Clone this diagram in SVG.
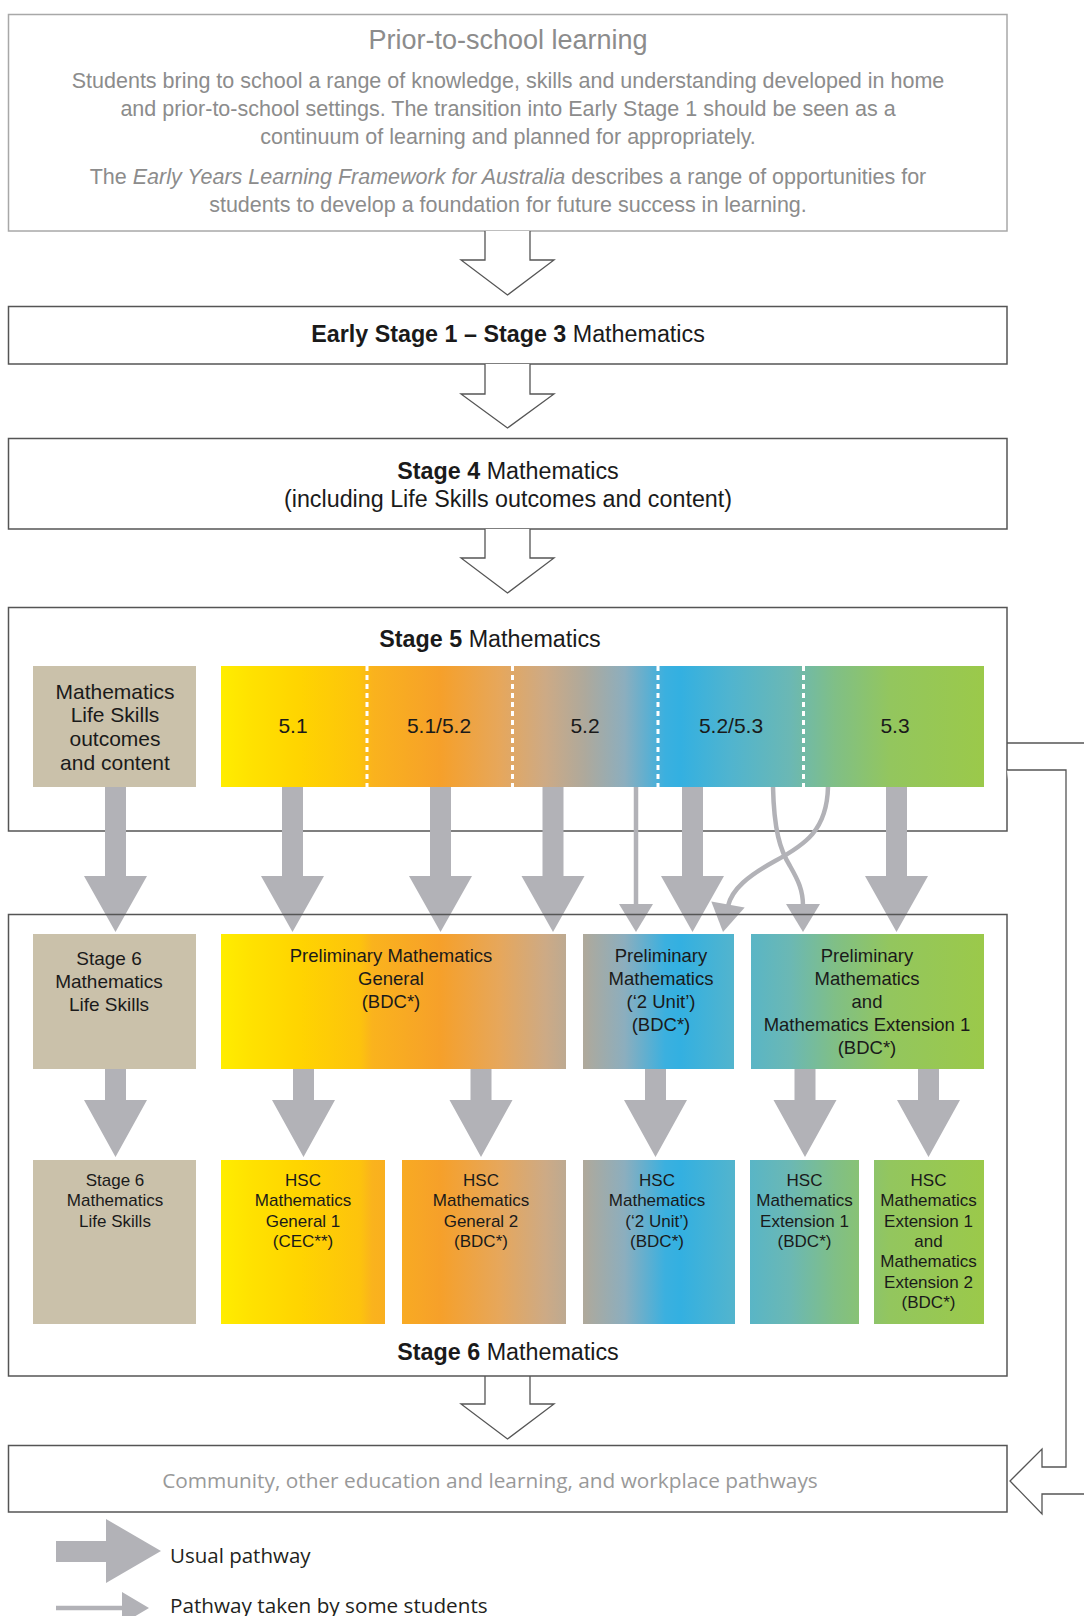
<svg xmlns="http://www.w3.org/2000/svg" width="1084" height="1616" viewBox="0 0 1084 1616">
<defs>
<linearGradient id="grad" gradientUnits="userSpaceOnUse" x1="221" y1="0" x2="984" y2="0">
<stop offset="0" stop-color="#FFED00"/>
<stop offset="0.038" stop-color="#FFE200"/>
<stop offset="0.104" stop-color="#FFD400"/>
<stop offset="0.182" stop-color="#FDC30D"/>
<stop offset="0.198" stop-color="#FAB31D"/>
<stop offset="0.287" stop-color="#F6A02A"/>
<stop offset="0.366" stop-color="#E6A75C"/>
<stop offset="0.425" stop-color="#CDAA85"/>
<stop offset="0.477" stop-color="#AEA99C"/>
<stop offset="0.529" stop-color="#8CAEBE"/>
<stop offset="0.582" stop-color="#3BB0DF"/>
<stop offset="0.602" stop-color="#33B0E1"/>
<stop offset="0.667" stop-color="#50B4CF"/>
<stop offset="0.746" stop-color="#6BB8B4"/>
<stop offset="0.805" stop-color="#80BF86"/>
<stop offset="0.877" stop-color="#93C65E"/>
<stop offset="1" stop-color="#9BC94A"/>
</linearGradient>
<style>
.box{fill:#fff;stroke:#555;stroke-width:1.5}
.boxn{fill:none;stroke:#555;stroke-width:1.5}
.hol{fill:#fff;stroke:#555;stroke-width:1.3}
.tan{fill:#CAC1AA}
.gr{fill:url(#grad)}
.arr{fill:#B2B2B7}
.thin{fill:none;stroke:#B2B2B7;stroke-width:4.5}
.t{font-family:"Liberation Sans",Arial,sans-serif;fill:#1a1a1a;text-anchor:middle}
.h{font-size:23.3px}
.b{font-weight:bold}
.g{fill:#8c8c8c}
.s21{font-size:21px}
.s18{font-size:18.5px}
.s17{font-size:17px}
.m{font-family:"Open Sans",sans-serif}
</style>
</defs>
<rect width="1084" height="1616" fill="#fff"/>

<g id="prior">
<rect x="8.5" y="14.5" width="998.5" height="216.5" fill="#fff" stroke="#a8a8a8" stroke-width="1.5"/>
<text class="t g" x="508" y="49" font-size="27">Prior-to-school learning</text>
<text class="t g" font-size="21.5"><tspan x="508" y="88">Students bring to school a range of knowledge, skills and understanding developed in home</tspan><tspan x="508" y="116">and prior-to-school settings. The transition into Early Stage 1 should be seen as a</tspan><tspan x="508" y="144">continuum of learning and planned for appropriately.</tspan><tspan x="508" y="184">The <tspan font-style="italic">Early Years Learning Framework for Australia</tspan> describes a range of opportunities for</tspan><tspan x="508" y="212">students to develop a foundation for future success in learning.</tspan></text>
</g>

<g id="es1">
<rect class="box" x="8.5" y="306.5" width="998.5" height="57.5"/>
<text class="t h" x="508" y="342"><tspan class="b">Early Stage 1 – Stage 3</tspan> Mathematics</text>
</g>

<g id="stage4">
<rect class="box" x="8.5" y="438.5" width="998.5" height="90.5"/>
<text class="t h" x="508" y="479"><tspan class="b">Stage 4</tspan> Mathematics</text>
<text class="t h" x="508" y="507">(including Life Skills outcomes and content)</text>
</g>

<g id="stage5">
<rect class="box" x="8.5" y="607.5" width="998.5" height="223.5"/>
<text class="t h" x="490" y="647"><tspan class="b">Stage 5</tspan> Mathematics</text>
<rect class="tan" x="33" y="666" width="163" height="121"/>
<text class="t s21"><tspan x="115" y="699">Mathematics</tspan><tspan x="115" y="722">Life Skills</tspan><tspan x="115" y="746">outcomes</tspan><tspan x="115" y="770">and content</tspan></text>
<rect class="gr" x="221" y="666" width="763" height="121"/>
<g stroke="#fff" stroke-width="3" stroke-dasharray="5 4">
<line x1="367" y1="666" x2="367" y2="787"/>
<line x1="512.5" y1="666" x2="512.5" y2="787"/>
<line x1="658" y1="666" x2="658" y2="787"/>
<line x1="803.5" y1="666" x2="803.5" y2="787"/>
</g>
<g class="t s21">
<text x="293" y="733">5.1</text>
<text x="439" y="733">5.1/5.2</text>
<text x="585" y="733">5.2</text>
<text x="731" y="733">5.2/5.3</text>
<text x="895" y="733">5.3</text>
</g>
</g>

<g id="connectors">
<path class="hol" d="M485 231 V260 H461 L507.5 295 L554 260 H530 V231"/>
<path class="hol" d="M485 364 V394 H461 L507.5 428 L554 394 H530 V364"/>
<path class="hol" d="M485 529 V558 H461 L507.5 593 L554 558 H530 V529"/>
<path class="hol" d="M485 1376 V1404 H461 L507.5 1439 L554 1404 H530 V1376"/>
<path fill="none" stroke="#555" stroke-width="1.3" d="M1007 743 H1084"/>
<path class="hol" d="M1007 770 H1066 V1467 H1042 V1449 L1010 1481 L1042 1514 V1494 H1084"/>
<path class="arr" d="M105 787 H126 V876 H147 L115.5 932 L84 876 H105 Z"/>
<path class="arr" d="M282 787 H303 V876 H324 L292.5 932 L261 876 H282 Z"/>
<path class="arr" d="M430 787 H451 V876 H472 L440.5 932 L409 876 H430 Z"/>
<path class="arr" d="M542.5 787 H563.5 V876 H584.5 L553 932 L521.5 876 H542.5 Z"/>
<path class="arr" d="M682 787 H703 V876 H724 L692.5 932 L661 876 H682 Z"/>
<path class="arr" d="M886 787 H907 V876 H928 L896.5 932 L865 876 H886 Z"/>
<path class="thin" d="M636 787 V906"/>
<polygon class="arr" points="619,904 653,904 636,932"/>
<path class="thin" d="M828 787 C827 830 805 845 775 861 C748 876 732 889 728 906"/>
<polygon class="arr" points="711.3,901.5 744.7,907.5 723,932"/>
<path class="thin" d="M773 787 C774 830 780 850 790 866 C798 880 803 890 803 906"/>
<polygon class="arr" points="786,904 820,904 803,932"/>
<path class="arr" d="M105 1069 H126 V1100 H147 L115.5 1157 L84 1100 H105 Z"/>
<path class="arr" d="M293 1069 H314 V1100 H335 L303.5 1157 L272 1100 H293 Z"/>
<path class="arr" d="M470.5 1069 H491.5 V1100 H512.5 L481 1157 L449.5 1100 H470.5 Z"/>
<path class="arr" d="M645 1069 H666 V1100 H687 L655.5 1157 L624 1100 H645 Z"/>
<path class="arr" d="M794.5 1069 H815.5 V1100 H836.5 L805 1157 L773.5 1100 H794.5 Z"/>
<path class="arr" d="M918 1069 H939 V1100 H960 L928.5 1157 L897 1100 H918 Z"/>
</g>

<g id="stage6">
<rect class="boxn" x="8.5" y="914.5" width="998.5" height="461.5"/>
<text class="t h" x="508" y="1360"><tspan class="b">Stage 6</tspan> Mathematics</text>
</g>

<g id="prelim-ls">
<rect class="tan" x="33" y="934" width="163" height="135"/>
<text class="t" font-size="19"><tspan x="109" y="965">Stage 6</tspan><tspan x="109" y="988">Mathematics</tspan><tspan x="109" y="1011">Life Skills</tspan></text>
</g>
<g id="prelim-general">
<rect class="gr" x="221" y="934" width="345" height="135"/>
<text class="t s18"><tspan x="391" y="962">Preliminary Mathematics</tspan><tspan x="391" y="985">General</tspan><tspan x="391" y="1008">(BDC*)</tspan></text>
</g>
<g id="prelim-2unit">
<rect class="gr" x="583" y="934" width="151" height="135"/>
<text class="t s18"><tspan x="661" y="962">Preliminary</tspan><tspan x="661" y="985">Mathematics</tspan><tspan x="661" y="1008">(‘2 Unit’)</tspan><tspan x="661" y="1031">(BDC*)</tspan></text>
</g>
<g id="prelim-ext1">
<rect class="gr" x="751" y="934" width="233" height="135"/>
<text class="t s18"><tspan x="867" y="962">Preliminary</tspan><tspan x="867" y="985">Mathematics</tspan><tspan x="867" y="1008">and</tspan><tspan x="867" y="1031">Mathematics Extension 1</tspan><tspan x="867" y="1054">(BDC*)</tspan></text>
</g>

<g id="hsc-ls">
<rect class="tan" x="33" y="1160" width="163" height="164"/>
<text class="t s17"><tspan x="115" y="1186">Stage 6</tspan><tspan x="115" y="1206">Mathematics</tspan><tspan x="115" y="1227">Life Skills</tspan></text>
</g>
<g id="hsc-gen1">
<rect class="gr" x="221" y="1160" width="164" height="164"/>
<text class="t s17"><tspan x="303" y="1186">HSC</tspan><tspan x="303" y="1206">Mathematics</tspan><tspan x="303" y="1227">General 1</tspan><tspan x="303" y="1247">(CEC**)</tspan></text>
</g>
<g id="hsc-gen2">
<rect class="gr" x="402" y="1160" width="164" height="164"/>
<text class="t s17"><tspan x="481" y="1186">HSC</tspan><tspan x="481" y="1206">Mathematics</tspan><tspan x="481" y="1227">General 2</tspan><tspan x="481" y="1247">(BDC*)</tspan></text>
</g>
<g id="hsc-2unit">
<rect class="gr" x="583" y="1160" width="152" height="164"/>
<text class="t s17"><tspan x="657" y="1186">HSC</tspan><tspan x="657" y="1206">Mathematics</tspan><tspan x="657" y="1227">(‘2 Unit’)</tspan><tspan x="657" y="1247">(BDC*)</tspan></text>
</g>
<g id="hsc-ext1">
<rect class="gr" x="750" y="1160" width="109" height="164"/>
<text class="t s17"><tspan x="804.5" y="1186">HSC</tspan><tspan x="804.5" y="1206">Mathematics</tspan><tspan x="804.5" y="1227">Extension 1</tspan><tspan x="804.5" y="1247">(BDC*)</tspan></text>
</g>
<g id="hsc-ext2">
<rect class="gr" x="874" y="1160" width="110" height="164"/>
<text class="t s17"><tspan x="928.5" y="1186">HSC</tspan><tspan x="928.5" y="1206">Mathematics</tspan><tspan x="928.5" y="1227">Extension 1</tspan><tspan x="928.5" y="1247">and</tspan><tspan x="928.5" y="1267">Mathematics</tspan><tspan x="928.5" y="1288">Extension 2</tspan><tspan x="928.5" y="1308">(BDC*)</tspan></text>
</g>

<g id="community">
<rect class="box" x="8.5" y="1445.5" width="998.5" height="66.5"/>
<text class="m" x="490" y="1488" font-size="20.8" fill="#999" text-anchor="middle">Community, other education and learning, and workplace pathways</text>
</g>

<g id="legend">
<path class="arr" d="M56 1541 H106 V1519 L161 1551 L106 1583 V1562 H56 Z"/>
<text class="m" x="170" y="1563" font-size="20.5" fill="#231f20">Usual pathway</text>
<path class="thin" d="M56 1608 H124"/>
<polygon class="arr" points="122,1592 149,1608 122,1624"/>
<text class="m" x="170" y="1613" font-size="20.7" fill="#231f20">Pathway taken by some students</text>
</g>
</svg>
